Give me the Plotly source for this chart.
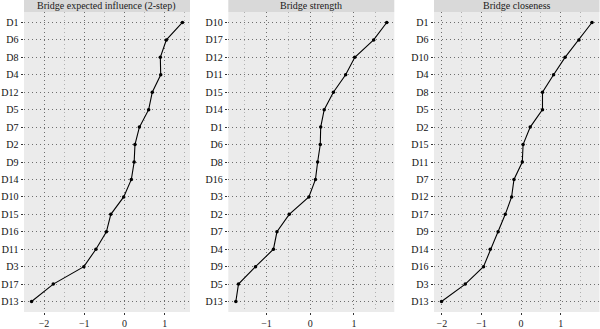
import plotly.graph_objects as go

titles = ["Bridge expected influence (2-step)", "Bridge strength", "Bridge closeness"]

cats1 = ["D1", "D6", "D8", "D4", "D12", "D5", "D7", "D2", "D9", "D14", "D10", "D15", "D16", "D11", "D3", "D17", "D13"]
vals1 = [1.44, 1.04, 0.89, 0.90, 0.69, 0.60, 0.37, 0.26, 0.24, 0.17, -0.02, -0.34, -0.45, -0.71, -1.01, -1.77, -2.31]

cats2 = ["D10", "D17", "D12", "D11", "D15", "D14", "D1", "D6", "D8", "D16", "D3", "D2", "D7", "D4", "D9", "D5", "D13"]
vals2 = [1.75, 1.45, 1.02, 0.81, 0.53, 0.32, 0.24, 0.23, 0.17, 0.12, -0.03, -0.48, -0.76, -0.84, -1.25, -1.64, -1.70]

cats3 = ["D1", "D6", "D10", "D4", "D8", "D5", "D2", "D15", "D11", "D7", "D12", "D17", "D9", "D14", "D16", "D3", "D13"]
vals3 = [1.79, 1.46, 1.11, 0.82, 0.54, 0.54, 0.23, 0.05, 0.03, -0.18, -0.24, -0.40, -0.58, -0.78, -0.95, -1.41, -2.01]

W, H = 600, 329
xdom = [[24 / W, 190 / W], [228.3 / W, 394.3 / W], [434 / W, 599.5 / W]]
ytop_px, ybot_px, strip_px = 12, 312, 0
ydom = [(H - ybot_px) / H, (H - ytop_px) / H]

font_fam = "Liberation Serif, DejaVu Serif, serif"
dots = "1px,3px"

fig = go.Figure()
panels = [(cats1, vals1), (cats2, vals2), (cats3, vals3)]
for i, (cats, vals) in enumerate(panels):
    n = i + 1
    xa = "x" if n == 1 else f"x{n}"
    ya = "y" if n == 1 else f"y{n}"
    fig.add_trace(go.Scatter(
        x=vals, y=cats, mode="lines+markers", xaxis=xa, yaxis=ya,
        line=dict(color="black", width=1.1),
        marker=dict(color="black", size=3.5),
        showlegend=False, hoverinfo="x+y"))
    lo, hi = min(vals), max(vals)
    pad = (hi - lo) * 0.05
    xkey = "xaxis" if n == 1 else f"xaxis{n}"
    ykey = "yaxis" if n == 1 else f"yaxis{n}"
    fig.update_layout(**{
        xkey: dict(
            domain=xdom[i], anchor=ya, range=[lo - pad, hi + pad],
            tickmode="array", tickvals=[-2, -1, 0, 1], ticktext=["\u22122", "\u22121", "0", "1"],
            showgrid=True, gridcolor="#6e6e6e", griddash=dots, gridwidth=1,
            minor=dict(showgrid=True, tickmode="array", tickvals=[-2.5, -1.5, -0.5, 0.5, 1.5],
                       gridcolor="#b0b0b0", griddash=dots, gridwidth=1),
            zeroline=False, ticks="outside", ticklen=2, tickcolor="#333333",
            tickfont=dict(family=font_fam, size=10, color="#222222"),
            showline=False, fixedrange=True, automargin=False),
        ykey: dict(
            domain=ydom, anchor=xa, type="category",
            categoryorder="array", categoryarray=cats[::-1],
            range=[-0.6, len(cats) - 0.4],
            showgrid=True, gridcolor="#6e6e6e", griddash=dots, gridwidth=1,
            zeroline=False, ticks="outside", ticklen=2.5, tickcolor="#333333",
            tickfont=dict(family=font_fam, size=10, color="#111111"),
            showline=False, fixedrange=True, automargin=False),
    })
    fig.add_shape(type="rect", xref="paper", yref="paper",
                  x0=xdom[i][0], x1=xdom[i][1], y0=ydom[0], y1=ydom[1],
                  fillcolor="#ebebeb", line=dict(width=0), layer="below")
    fig.add_shape(type="rect", xref="paper", yref="paper",
                  x0=xdom[i][0], x1=xdom[i][1], y0=ydom[1], y1=(H - strip_px) / H,
                  fillcolor="#d9d9d9", line=dict(width=0), layer="below")
    fig.add_annotation(x=(xdom[i][0] + xdom[i][1]) / 2, y=(H - 6) / H, xref="paper", yref="paper",
                       text=titles[i], showarrow=False, xanchor="center", yanchor="middle",
                       font=dict(family=font_fam, size=10, color="#1a1a1a"))

fig.update_layout(width=W, height=H, margin=dict(l=0, r=0, t=0, b=0),
                  paper_bgcolor="white", plot_bgcolor="rgba(0,0,0,0)")
fig.write_html("out.html")
